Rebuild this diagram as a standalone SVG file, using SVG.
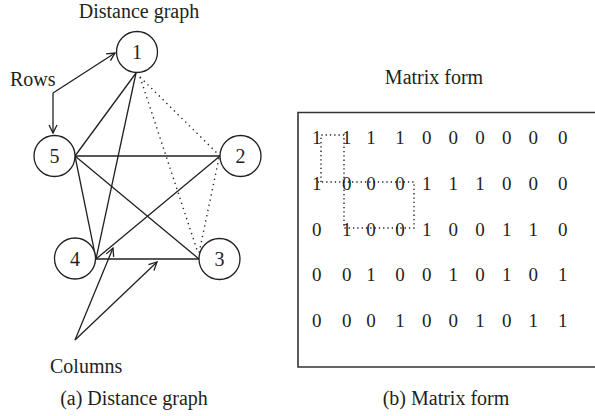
<svg xmlns="http://www.w3.org/2000/svg" width="595" height="416" viewBox="0 0 595 416">
<defs>
<style>
text{font-family:"Liberation Serif","Times New Roman",serif;fill:#231f20}
.lbl{font-size:20px}
.num{font-size:19px;text-anchor:middle}
.node circle{fill:#fff;stroke:#231f20;stroke-width:1.3}
.node text{font-size:20px;text-anchor:middle}
.e{stroke:#231f20;stroke-width:1.3;fill:none}
.d{stroke:#231f20;stroke-width:1.4;fill:none;stroke-dasharray:1.3 4}
.md{stroke:#231f20;stroke-width:1.4;fill:none;stroke-dasharray:1.3 3}
</style>
<marker id="arr" markerWidth="12" markerHeight="12" refX="0" refY="0" viewBox="-9 -6 12 12" orient="auto" markerUnits="userSpaceOnUse">
<path d="M-8,-4 L0,0 L-8,4" fill="none" stroke="#231f20" stroke-width="1.3"/>
</marker>
</defs>
<rect width="595" height="416" fill="#fff"/>
<text class="lbl" x="139" y="18" text-anchor="middle">Distance graph</text>
<text class="lbl" x="10" y="86">Rows</text>
<text class="lbl" x="50" y="373">Columns</text>
<text class="lbl" x="134" y="405" text-anchor="middle">(a) Distance graph</text>
<text class="lbl" x="434" y="84" text-anchor="middle">Matrix form</text>
<text class="lbl" x="446" y="405" text-anchor="middle">(b) Matrix form</text>
<g id="connectors">
<path class="e" d="M75,156 L220,156"/>
<path class="e" d="M75,156 L136,73"/>
<path class="e" d="M96,259 L136,73"/>
<path class="e" d="M75,156 L96,259"/>
<path class="e" d="M75,156 L199,259"/>
<path class="e" d="M96,259 L220,156"/>
<path class="e" d="M96,259 L199,259"/>
<path class="d" d="M140,77 L219,155"/>
<path class="d" d="M140,77 L198,253"/>
<path class="d" d="M219,158 L199,253"/>
<path class="e" d="M53,93 L115,53" marker-end="url(#arr)"/>
<path class="e" d="M53,93 L53,133" marker-end="url(#arr)"/>
<path class="e" d="M75,340 L113,248" marker-end="url(#arr)"/>
<path class="e" d="M75,340 L157,262" marker-end="url(#arr)"/>
</g>
<g id="node1" class="node"><circle cx="137" cy="52" r="20.5"/><text x="137" y="59">1</text></g>
<g id="node2" class="node"><circle cx="240.5" cy="156" r="20.5"/><text x="240.5" y="163">2</text></g>
<g id="node3" class="node"><circle cx="219.5" cy="259" r="20.5"/><text x="219.5" y="266">3</text></g>
<g id="node4" class="node"><circle cx="75" cy="258.5" r="20.5"/><text x="75" y="265.5">4</text></g>
<g id="node5" class="node"><circle cx="54.5" cy="156" r="20.5"/><text x="54.5" y="163">5</text></g>
<g id="matrix">
<path d="M596,112.5 H298 V367 H596" fill="none" stroke="#333" stroke-width="1.6"/>
<g class="num">
<text y="143.5"><tspan x="316.7">1</tspan><tspan x="346.7">1</tspan><tspan x="371">1</tspan><tspan x="400">1</tspan><tspan x="426.7">0</tspan><tspan x="453.3">0</tspan><tspan x="480">0</tspan><tspan x="506.7">0</tspan><tspan x="533.3">0</tspan><tspan x="562.7">0</tspan></text>
<text y="189.5"><tspan x="316.7">1</tspan><tspan x="346.7">0</tspan><tspan x="371">0</tspan><tspan x="400">0</tspan><tspan x="426.7">1</tspan><tspan x="453.3">1</tspan><tspan x="480">1</tspan><tspan x="506.7">0</tspan><tspan x="533.3">0</tspan><tspan x="562.7">0</tspan></text>
<text y="235.5"><tspan x="316.7">0</tspan><tspan x="346.7">1</tspan><tspan x="371">0</tspan><tspan x="400">0</tspan><tspan x="426.7">1</tspan><tspan x="453.3">0</tspan><tspan x="480">0</tspan><tspan x="506.7">1</tspan><tspan x="533.3">1</tspan><tspan x="562.7">0</tspan></text>
<text y="281"><tspan x="316.7">0</tspan><tspan x="346.7">0</tspan><tspan x="371">1</tspan><tspan x="400">0</tspan><tspan x="426.7">0</tspan><tspan x="453.3">1</tspan><tspan x="480">0</tspan><tspan x="506.7">1</tspan><tspan x="533.3">0</tspan><tspan x="562.7">1</tspan></text>
<text y="327"><tspan x="316.7">0</tspan><tspan x="346.7">0</tspan><tspan x="371">0</tspan><tspan x="400">1</tspan><tspan x="426.7">0</tspan><tspan x="453.3">0</tspan><tspan x="480">1</tspan><tspan x="506.7">0</tspan><tspan x="533.3">1</tspan><tspan x="562.7">1</tspan></text>
</g>
<path class="md" d="M321,182 V135 H344 V228 H414 V182 H318"/>
</g>
</svg>
